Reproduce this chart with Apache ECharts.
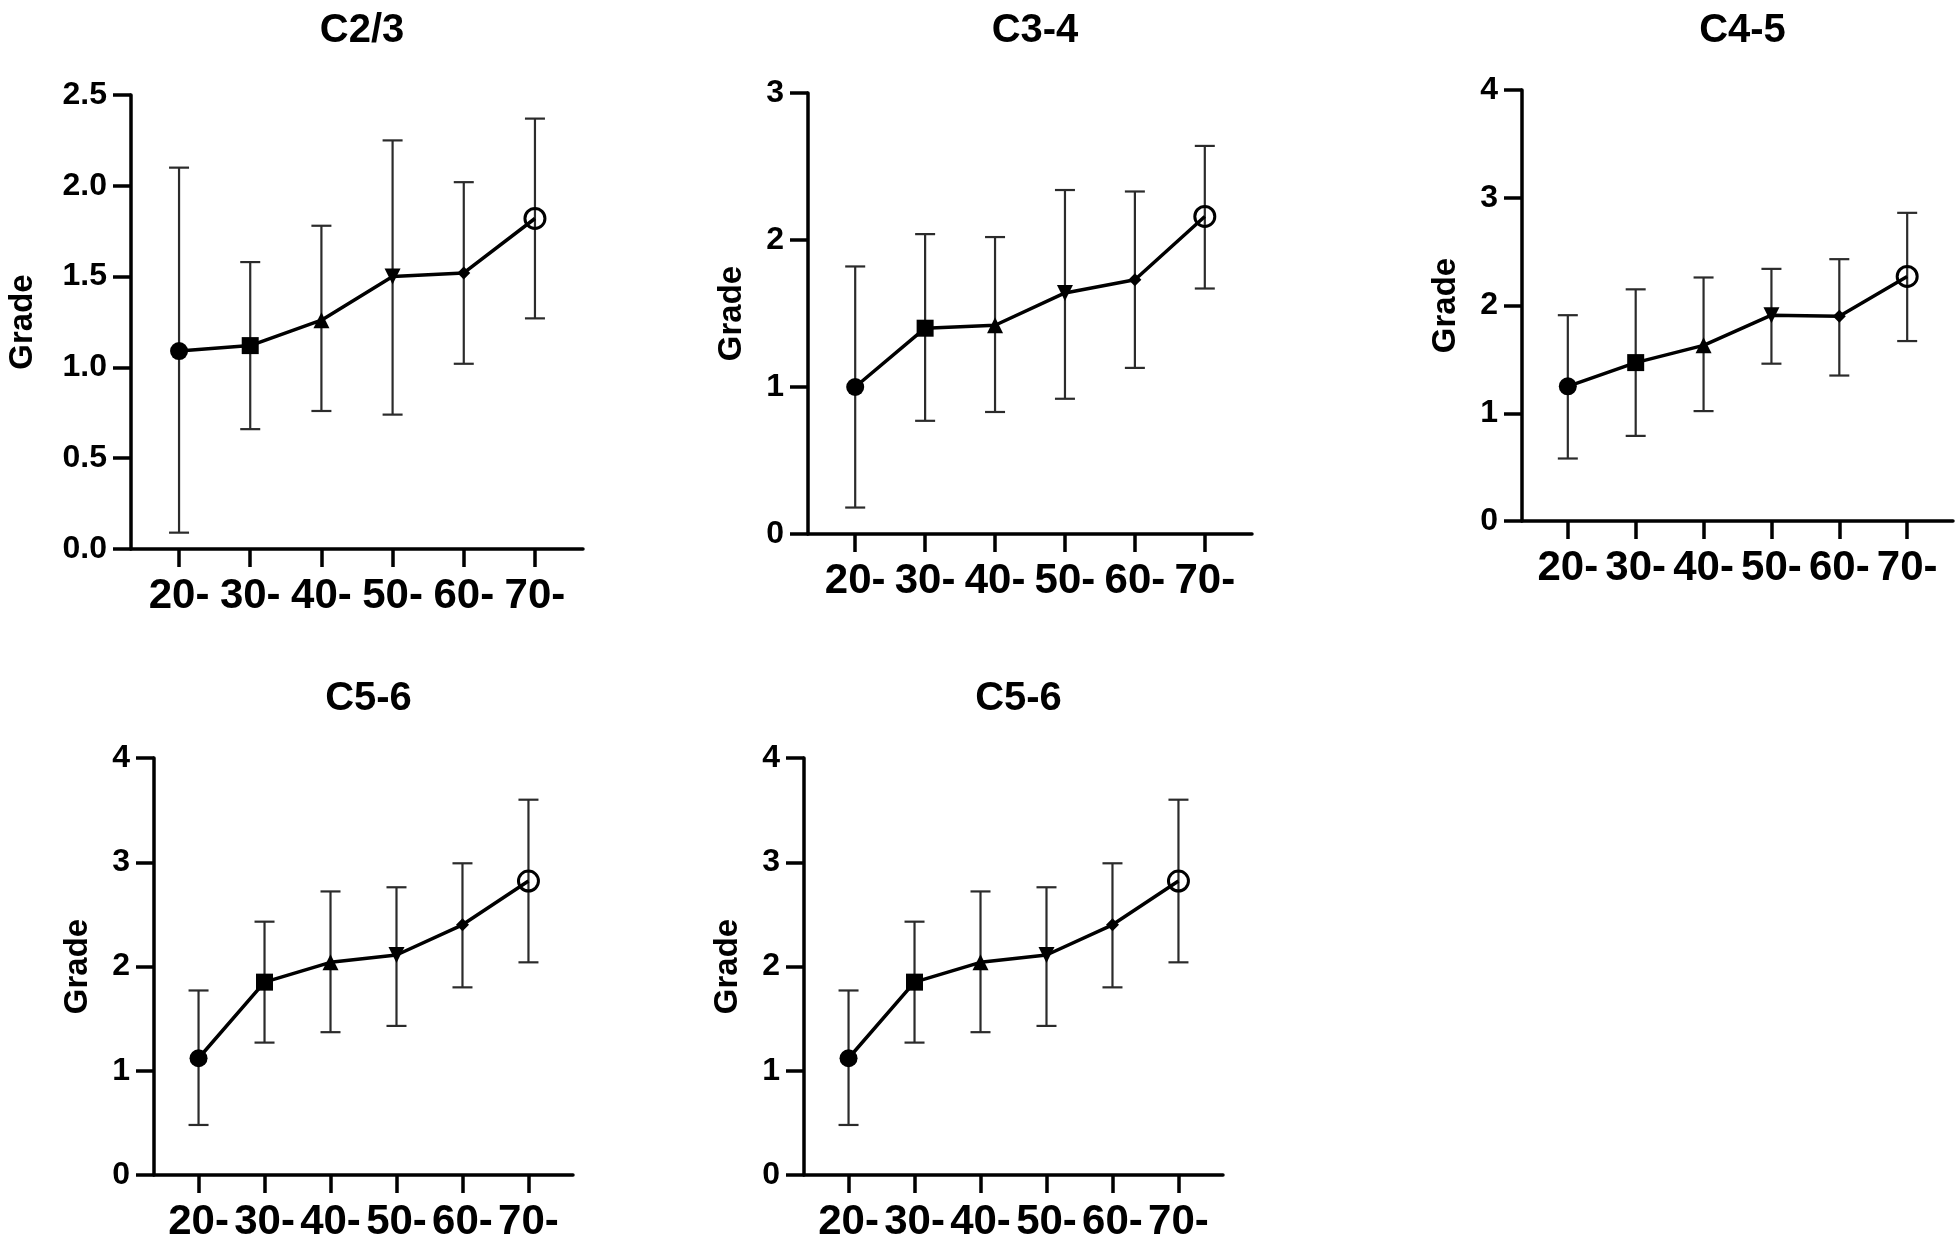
<!DOCTYPE html>
<html>
<head>
<meta charset="utf-8">
<script src="https://cdn.jsdelivr.net/npm/echarts@6/dist/echarts.min.js"></script>
<style>
html,body{margin:0;padding:0;background:#fff;}
#chart{width:1960px;height:1243px;}
</style>
</head>
<body>
<div id="chart"></div>
<script>
// ---- data ----
const categories = ['20-', '30-', '40-', '50-', '60-', '70-'];

const titles = ['C2/3', 'C3-4', 'C4-5', 'C5-6', 'C5-6'];

const c23Mean = [1.09, 1.12, 1.26, 1.50, 1.52, 1.82];
const c23Low  = [0.09, 0.66, 0.76, 0.74, 1.02, 1.27];
const c23High = [2.10, 1.58, 1.78, 2.25, 2.02, 2.37];

const c34Mean = [1.00, 1.40, 1.42, 1.64, 1.73, 2.16];
const c34Low  = [0.18, 0.77, 0.83, 0.92, 1.13, 1.67];
const c34High = [1.82, 2.04, 2.02, 2.34, 2.33, 2.64];

const c45Mean = [1.25, 1.47, 1.63, 1.91, 1.90, 2.27];
const c45Low  = [0.58, 0.79, 1.02, 1.46, 1.35, 1.67];
const c45High = [1.91, 2.15, 2.26, 2.34, 2.43, 2.86];

const c56Mean = [1.12, 1.85, 2.04, 2.11, 2.40, 2.82];
const c56Low  = [0.48, 1.27, 1.37, 1.43, 1.80, 2.04];
const c56High = [1.77, 2.43, 2.72, 2.76, 2.99, 3.60];

const yMax      = [2.5, 3, 4, 4, 4];
const yInterval = [0.5, 1, 1, 1, 1];
const yDecimals = [1, 0, 0, 0, 0];

// ---- layout / style ----
const panels = [
  {mean: c23Mean, low: c23Low, high: c23High, grid: {left: 131, top: 95, width: 452, height: 454}, nameGap: 92, titleTop: 6},
  {mean: c34Mean, low: c34Low, high: c34High, grid: {left: 808, top: 93, width: 444, height: 441}, nameGap: 60, titleTop: 6},
  {mean: c45Mean, low: c45Low, high: c45High, grid: {left: 1522, top: 90, width: 431, height: 431}, nameGap: 60, titleTop: 6},
  {mean: c56Mean, low: c56Low, high: c56High, grid: {left: 154, top: 758, width: 419, height: 420}, nameGap: 60, titleTop: 674},
  {mean: c56Mean, low: c56Low, high: c56High, grid: {left: 804, top: 758, width: 419, height: 420}, nameGap: 60, titleTop: 674}
];

const FONT = 'Liberation Sans, Arial, Helvetica, sans-serif';
const symbols = ['circle', 'rect', 'triangle', 'triangle', 'diamond', 'circle'];
const symbolSizes = [18, 17, 16, 16, 13, 20];
const symbolRotates = [0, 0, 0, 180, 0, 0];
const xTickVals = categories.map((c, i) => i);

const option = {
  backgroundColor: '#fff',
  animation: false,
  title: [],
  grid: [],
  xAxis: [],
  yAxis: [],
  series: []
};

panels.forEach((p, k) => {
  const g = p.grid;
  option.grid.push({left: g.left, top: g.top, width: g.width, height: g.height, containLabel: false});
  option.title.push({
    text: titles[k],
    left: g.left + g.width / 2,
    top: p.titleTop,
    textAlign: 'center',
    textStyle: {fontFamily: FONT, fontSize: 40, fontWeight: 'bold', color: '#000'}
  });
  option.xAxis.push({
    type: 'value',
    gridIndex: k,
    min: -0.675,
    max: 5.675,
    splitLine: {show: false},
    axisLine: {show: true, onZero: false, lineStyle: {color: '#000', width: 3.5}},
    axisTick: {show: true, length: 18, lineStyle: {color: '#000', width: 3.5}, customValues: xTickVals},
    axisLabel: {
      show: true, margin: 26, customValues: xTickVals,
      fontFamily: FONT, fontSize: 42, fontWeight: 'bold', color: '#000',
      formatter: v => categories[Math.round(v)]
    }
  });
  option.yAxis.push({
    type: 'value',
    gridIndex: k,
    min: 0,
    max: yMax[k],
    interval: yInterval[k],
    name: 'Grade',
    nameLocation: 'middle',
    nameGap: p.nameGap,
    nameRotate: 90,
    nameTextStyle: {fontFamily: FONT, fontSize: 33, fontWeight: 'bold', color: '#000'},
    splitLine: {show: false},
    axisLine: {show: true, onZero: false, lineStyle: {color: '#000', width: 3.5}},
    axisTick: {show: true, length: 18, lineStyle: {color: '#000', width: 3.5}},
    axisLabel: {
      margin: 24,
      fontFamily: FONT, fontSize: 32, fontWeight: 'bold', color: '#000',
      formatter: v => v.toFixed(yDecimals[k])
    }
  });
  // error bars
  option.series.push({
    type: 'custom',
    xAxisIndex: k,
    yAxisIndex: k,
    z: 1,
    silent: true,
    data: categories.map((c, i) => [i, p.low[i], p.high[i]]),
    encode: {x: 0, y: [1, 2]},
    renderItem: (params, api) => {
      const x = api.value(0);
      const lo = api.coord([x, api.value(1)]);
      const hi = api.coord([x, api.value(2)]);
      const hw = 10;
      const st = {stroke: '#2b2b2b', lineWidth: 2.2};
      return {
        type: 'group',
        children: [
          {type: 'line', shape: {x1: lo[0], y1: hi[1], x2: lo[0], y2: lo[1]}, style: st},
          {type: 'line', shape: {x1: lo[0] - hw, y1: hi[1], x2: lo[0] + hw, y2: hi[1]}, style: st},
          {type: 'line', shape: {x1: lo[0] - hw, y1: lo[1], x2: lo[0] + hw, y2: lo[1]}, style: st}
        ]
      };
    }
  });
  // mean line with markers
  option.series.push({
    type: 'line',
    xAxisIndex: k,
    yAxisIndex: k,
    z: 3,
    silent: true,
    lineStyle: {color: '#000', width: 3.5},
    data: categories.map((c, i) => {
      const item = {
        value: [i, p.mean[i]],
        symbol: symbols[i],
        symbolSize: symbolSizes[i],
        symbolRotate: symbolRotates[i],
        itemStyle: {color: '#000', borderWidth: 0}
      };
      if (i === 5) {
        item.itemStyle = {color: 'rgba(0,0,0,0)', borderColor: '#000', borderWidth: 3};
      }
      return item;
    })
  });
});

const chart = echarts.init(document.getElementById('chart'), null, {renderer: 'canvas'});
chart.setOption(option);
</script>
</body>
</html>
